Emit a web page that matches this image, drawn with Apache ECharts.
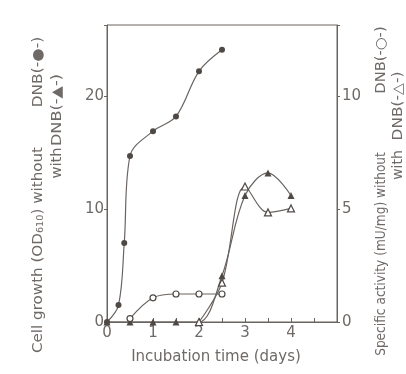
<!DOCTYPE html>
<html>
<head>
<meta charset="utf-8">
<script src="https://cdn.jsdelivr.net/npm/echarts@6/dist/echarts.min.js"></script>
<style>html,body{margin:0;padding:0;background:#fff}#c{width:406px;height:374px}</style>
</head>
<body>
<div id="c"></div>
<script>
// Incubation time (days)
const growthNoDNB_x = [0, 0.25, 0.375, 0.5, 1, 1.5, 2, 2.5];
const growthNoDNB_y = [0, 1.5, 7.0, 14.7, 16.9, 18.2, 22.2, 24.1];
const growthDNB_x = [0, 0.5, 1, 1.5, 2, 2.5, 3, 3.5, 4];
const growthDNB_y = [0, 0, 0, 0, 0, 4.1, 11.2, 13.2, 11.2];
const actNoDNB_x = [0.5, 1, 1.5, 2, 2.5];
const actNoDNB_y = [0.15, 1.07, 1.24, 1.24, 1.24];
const actDNB_x = [2, 2.5, 3, 3.5, 4];
const actDNB_y = [0, 1.74, 6.0, 4.85, 5.03];
const xTicks = [0, 1, 2, 3, 4];
const leftTicks = [0, 10, 20];
const rightTicks = [0, 5, 10];

const ink = '#6a6461';
const txt = '#6f6a67';
const font = 'DejaVu Sans';
const pairs = (xs, ys) => xs.map((x, i) => [x, ys[i]]);

function vtext(text, x, y, size, sx, rich) {
  return {type: 'text', x: x, y: y, rotation: Math.PI / 2, scaleX: sx || 1,
    style: {text: text, fill: txt, font: size + 'px ' + font, align: 'center', verticalAlign: 'middle', rich: rich || {}}};
}

const chart = echarts.init(document.getElementById('c'));
chart.setOption({
  animation: false,
  backgroundColor: '#fff',
  textStyle: {fontFamily: font, color: txt},
  grid: {left: 107, right: 69, top: 25, bottom: 52, show: true, borderColor: ink, borderWidth: 1},
  xAxis: {
    type: 'value', min: 0, max: 5, interval: 0.5,
    axisLine: {lineStyle: {color: ink}},
    axisTick: {inside: true, length: 4, lineStyle: {color: ink}},
    splitLine: {show: false},
    axisLabel: {fontSize: 15, color: txt, margin: 4, fontFamily: font,
      formatter: v => xTicks.indexOf(v) >= 0 ? String(v) : ''}
  },
  yAxis: [{
    type: 'value', min: 0, max: 26.3, interval: 10,
    axisLine: {show: true, lineStyle: {color: ink}},
    axisTick: {length: 3, lineStyle: {color: ink}},
    splitLine: {show: false},
    axisLabel: {fontSize: 15, color: txt, margin: 3, fontFamily: font,
      formatter: v => leftTicks.indexOf(v) >= 0 ? String(v) : ''}
  }, {
    type: 'value', min: 0, max: 13.15, interval: 5, position: 'right',
    axisLine: {show: true, lineStyle: {color: ink}},
    axisTick: {length: 3, lineStyle: {color: ink}},
    splitLine: {show: false},
    axisLabel: {fontSize: 15, color: txt, margin: 5, fontFamily: font,
      formatter: v => rightTicks.indexOf(v) >= 0 ? String(v) : ''}
  }],
  series: [{
    type: 'line', yAxisIndex: 0, smooth: 0.35, data: pairs(growthNoDNB_x, growthNoDNB_y),
    symbol: 'circle', symbolSize: 6, lineStyle: {color: ink, width: 1.2}, itemStyle: {color: '#4f4946'}
  }, {
    type: 'line', yAxisIndex: 0, smooth: 0.35, data: pairs(growthDNB_x, growthDNB_y),
    symbol: 'triangle', symbolSize: 7, lineStyle: {color: ink, width: 1.2}, itemStyle: {color: '#4f4946'}
  }, {
    type: 'line', yAxisIndex: 1, smooth: 0.35, data: pairs(actNoDNB_x, actNoDNB_y),
    symbol: 'circle', symbolSize: 6, showAllSymbol: true, lineStyle: {color: ink, width: 1.2},
    itemStyle: {color: '#fff', borderColor: '#4f4946', borderWidth: 1.2}
  }, {
    type: 'line', yAxisIndex: 1, smooth: 0.35, data: pairs(actDNB_x, actDNB_y),
    symbol: 'triangle', symbolSize: 7, lineStyle: {color: ink, width: 1.2},
    itemStyle: {color: '#fff', borderColor: '#4f4946', borderWidth: 1.2}
  }],
  graphic: [
    vtext('Cell growth (OD{s|610}) without', 38, 250, 14, 1.08,
      {s: {fontSize: 9, fill: txt, verticalAlign: 'bottom', fontFamily: font}}),
    vtext('DNB(-●-)', 38, 72, 14, 1.1),
    vtext('with', 57, 163, 14, 1.05),
    vtext('DNB(-▲-)', 57, 110, 14, 1.15),

    vtext('Specific activity (mU/mg) without', 381, 254, 14, 0.87),
    vtext('DNB(-○-)', 381, 60, 14, 1.05),
    vtext('with', 398, 165, 14, 1.0),
    vtext('DNB(-△-)', 398, 106, 14, 1.1),

    {type: 'text', x: 216, y: 357,
      style: {text: 'Incubation time (days)', fill: txt, font: '15px ' + font, align: 'center', verticalAlign: 'middle'}}
  ]
});
</script>
</body>
</html>
